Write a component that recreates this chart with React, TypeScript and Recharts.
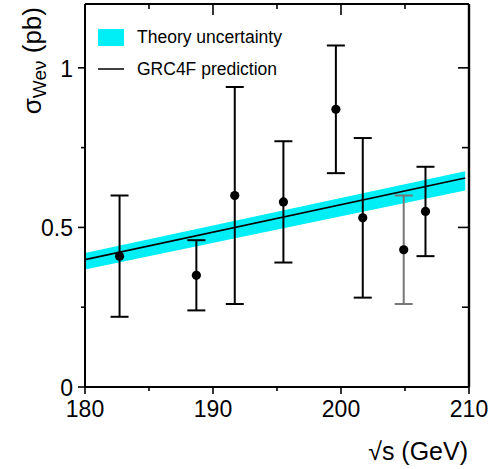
import React from "react";
import {
  ComposedChart,
  Area,
  Line,
  Scatter,
  ErrorBar,
  XAxis,
  YAxis,
  Legend,
  Label,
} from "recharts";

// ---- data ----
const energies = [182.7, 188.7, 191.7, 195.5, 199.6, 201.7, 204.9, 206.6];
const sigma = [0.41, 0.35, 0.6, 0.58, 0.87, 0.53, 0.43, 0.55];
const sigmaLow = [0.22, 0.24, 0.26, 0.39, 0.67, 0.28, 0.26, 0.41];
const sigmaHigh = [0.6, 0.46, 0.94, 0.77, 1.07, 0.78, 0.6, 0.69];
const greyIndex = [6];

const theoryE = [180, 209.7];
const theoryCentral = [0.399, 0.655];
const theoryLow = [0.368, 0.616];
const theoryHigh = [0.42, 0.676];

const xTicks = [180, 185, 190, 195, 200, 205, 210];
const xMajor = [180, 190, 200, 210];
const yTicks = [0, 0.25, 0.5, 0.75, 1];
const yMajor = [0, 0.5, 1];
const yLabels = ["0", "0.5", "1"];

const legendBand = "Theory uncertainty";
const legendLine = "GRC4F prediction";

const CYAN = "#00eef5";
const FONT = "'Liberation Sans', Arial, Helvetica, sans-serif";

const points = energies.map((x, i) => ({
  x,
  y: sigma[i],
  err: [sigma[i] - sigmaLow[i], sigmaHigh[i] - sigma[i]],
}));
const blackPts = points.filter((_, i) => !greyIndex.includes(i));
const greyPts = points.filter((_, i) => greyIndex.includes(i));

const theoryBand = theoryE.map((x, i) => ({ x, band: [theoryLow[i], theoryHigh[i]] }));
const theoryLine = theoryE.map((x, i) => ({ x, c: theoryCentral[i] }));

const isMajor = (v: number, list: number[]) => list.some((m) => Math.abs(m - v) < 1e-6);

const BottomTick = (p: any) => {
  const v = p.payload.value;
  const major = isMajor(v, xMajor);
  return (
    <g>
      <line x1={p.x} x2={p.x} y1={p.y} y2={p.y + (major ? 7 : 4)} stroke="#000" strokeWidth={1.6} />
      {major && (
        <text x={p.x} y={p.y + 30} textAnchor="middle" fontSize={23} fontFamily={FONT} fill="#000">
          {v}
        </text>
      )}
    </g>
  );
};

const TopTick = (p: any) => {
  const v = p.payload.value;
  const major = isMajor(v, xMajor);
  return <line x1={p.x} x2={p.x} y1={p.y} y2={p.y + (major ? 11 : 5)} stroke="#000" strokeWidth={1.6} />;
};

const LeftTick = (p: any) => {
  const v = p.payload.value;
  const idx = yMajor.findIndex((m) => Math.abs(m - v) < 1e-6);
  const major = idx >= 0;
  return (
    <g>
      <line x1={p.x} x2={p.x - (major ? 7 : 4)} y1={p.y} y2={p.y} stroke="#000" strokeWidth={1.6} />
      {major && (
        <text x={p.x - 12} y={p.y + 9} textAnchor="end" fontSize={23} fontFamily={FONT} fill="#000">
          {yLabels[idx]}
        </text>
      )}
    </g>
  );
};

const RightTick = (p: any) => {
  const v = p.payload.value;
  const major = isMajor(v, yMajor);
  return <line x1={p.x} x2={p.x - (major ? 11 : 7)} y1={p.y} y2={p.y} stroke="#000" strokeWidth={1.6} />;
};

const Dot = (p: any) => <circle cx={p.cx} cy={p.cy} r={4.6} fill="#000" />;

const renderLegend = () => (
  <svg width={502} height={100} style={{ display: "block" }}>
    <rect x={98} y={29} width={26} height={17} fill={CYAN} />
    <text x={137} y={43} fontSize={17.5} fontFamily={FONT} fill="#000">
      {legendBand}
    </text>
    <line x1={98} x2={124} y1={69} y2={69} stroke="#000" strokeWidth={1.5} />
    <text x={137} y={75} fontSize={17.5} fontFamily={FONT} fill="#000">
      {legendLine}
    </text>
  </svg>
);

const XLabel = (p: any) => {
  const vb = p.viewBox || {};
  return (
    <text x={vb.x + vb.width - 1} y={vb.y + 73} textAnchor="end" fontSize={25} fontFamily={FONT} fill="#000">
      √s (GeV)
    </text>
  );
};

const YLabel = (p: any) => {
  const vb = p.viewBox || {};
  const x = vb.x + vb.width - 44;
  const y = vb.y + 3;
  return (
    <text
      x={x}
      y={y}
      transform={`rotate(-90 ${x} ${y})`}
      textAnchor="end"
      fontSize={26}
      fontFamily={FONT}
      fill="#000"
    >
      σ
      <tspan fontSize={19} dy={5}>
        Weν
      </tspan>
      <tspan dy={-5}> (pb)</tspan>
    </text>
  );
};

export default function App() {
  return (
    <div style={{ position: "absolute", left: 0, top: 0, width: 502, height: 469, background: "#fff" }}>
      <ComposedChart width={502} height={469} margin={{ top: 3, right: 32, bottom: 81, left: 84 }}>
        <XAxis
          xAxisId="b"
          dataKey="x"
          type="number"
          domain={[180, 210]}
          ticks={xTicks}
          allowDataOverflow
          height={1}
          tickSize={0}
          tickMargin={0}
          tickLine={false}
          tick={BottomTick}
          axisLine={{ stroke: "#000", strokeWidth: 2 }}
          interval={0}
        >
          <Label content={XLabel} />
        </XAxis>
        <XAxis
          xAxisId="t"
          orientation="top"
          dataKey="x"
          type="number"
          domain={[180, 210]}
          ticks={xTicks}
          allowDataOverflow
          height={1}
          tickSize={0}
          tickMargin={0}
          tickLine={false}
          tick={TopTick}
          axisLine={{ stroke: "#000", strokeWidth: 2 }}
          interval={0}
        />
        <YAxis
          yAxisId="l"
          type="number"
          domain={[0, 1.2]}
          ticks={yTicks}
          allowDataOverflow
          width={1}
          tickSize={0}
          tickMargin={0}
          tickLine={false}
          tick={LeftTick}
          axisLine={{ stroke: "#000", strokeWidth: 2 }}
          interval={0}
        >
          <Label content={YLabel} />
        </YAxis>
        <YAxis
          yAxisId="r"
          orientation="right"
          type="number"
          domain={[0, 1.2]}
          ticks={yTicks}
          allowDataOverflow
          width={1}
          tickSize={0}
          tickMargin={0}
          tickLine={false}
          tick={RightTick}
          axisLine={{ stroke: "#000", strokeWidth: 2.4 }}
          interval={0}
        />
        <Area
          xAxisId="b"
          yAxisId="l"
          data={theoryBand}
          dataKey="band"
          type="linear"
          stroke="none"
          fill={CYAN}
          fillOpacity={1}
          isAnimationActive={false}
          activeDot={false}
        />
        <Line
          xAxisId="b"
          yAxisId="l"
          data={theoryLine}
          dataKey="c"
          type="linear"
          stroke="#000"
          strokeWidth={1.6}
          dot={false}
          activeDot={false}
          isAnimationActive={false}
        />
        <Scatter xAxisId="b" yAxisId="l" data={blackPts} dataKey="y" shape={Dot} isAnimationActive={false}>
          <ErrorBar dataKey="err" direction="y" width={9} stroke="#000" strokeWidth={2} isAnimationActive={false} />
        </Scatter>
        <Scatter xAxisId="b" yAxisId="l" data={greyPts} dataKey="y" shape={Dot} isAnimationActive={false}>
          <ErrorBar dataKey="err" direction="y" width={9} stroke="#777" strokeWidth={2} isAnimationActive={false} />
        </Scatter>
        <Legend
          layout="horizontal"
          verticalAlign="middle"
          align="center"
          content={renderLegend}
          wrapperStyle={{ position: "absolute", left: 0, top: 0, width: 502, height: 100, pointerEvents: "none" }}
        />
      </ComposedChart>
    </div>
  );
}
